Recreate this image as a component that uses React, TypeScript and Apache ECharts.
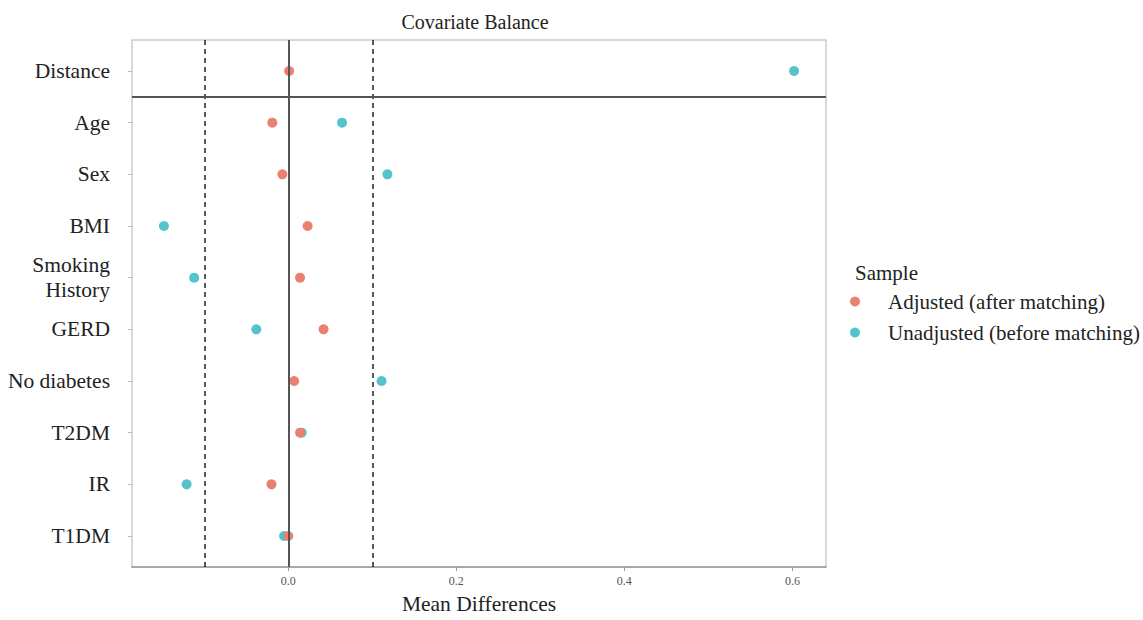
import React, { useEffect, useRef } from "react";
import * as echarts from "echarts";

const categories = [
  "Distance",
  "Age",
  "Sex",
  "BMI",
  "Smoking\nHistory",
  "GERD",
  "No diabetes",
  "T2DM",
  "IR",
  "T1DM",
];
const adjusted = [0.001, -0.019, -0.007, 0.023, 0.014, 0.042, 0.007, 0.014, -0.02, 0.0];
const unadjusted = [0.602, 0.064, 0.118, -0.148, -0.112, -0.038, 0.111, 0.016, -0.121, -0.005];
const xTicks = [0, 0.2, 0.4, 0.6];
const thresholds = [-0.1, 0.1];

const SERIF = "'Liberation Serif', 'DejaVu Serif', serif";
const RED = "#EA806F";
const BLUE = "#55C3CC";

export default function App() {
  const ref = useRef<HTMLDivElement>(null);
  useEffect(() => {
    if (!ref.current) return;
    const chart = echarts.init(ref.current, undefined, { renderer: "svg" });
    const yIdx = categories.map((_, i) => i);
    chart.setOption({
      animation: false,
      backgroundColor: "#fff",
      title: [
        {
          text: "Covariate Balance",
          left: 470,
          top: 7,
          textAlign: "center",
          textStyle: { fontFamily: SERIF, fontSize: 20, fontWeight: "normal", color: "#222" },
        },
        {
          text: "Sample",
          left: 850,
          top: 257,
          textStyle: { fontFamily: SERIF, fontSize: 21, fontWeight: "normal", color: "#222" },
        },
      ],
      legend: {
        orient: "vertical",
        left: 845,
        top: 286,
        itemWidth: 26,
        itemHeight: 10,
        itemGap: 10,
        icon: "circle",
        data: ["Adjusted (after matching)", "Unadjusted (before matching)"],
        textStyle: {
          fontFamily: SERIF,
          fontSize: 21,
          lineHeight: 21,
          color: "#222",
          padding: [0, 0, 0, 15],
        },
      },
      grid: {
        left: 132,
        right: 317,
        top: 40,
        bottom: 52,
        show: true,
        borderColor: "#cccccc",
        borderWidth: 1.5,
        backgroundColor: "#fff",
      },
      xAxis: {
        type: "value",
        min: -0.186,
        max: 0.64,
        name: "Mean Differences",
        nameLocation: "middle",
        nameGap: 26,
        nameTextStyle: { fontFamily: SERIF, fontSize: 21.5, color: "#222" },
        axisLine: { show: true, onZero: false, lineStyle: { color: "#999", width: 1.5 } },
        axisTick: { show: true, customValues: xTicks, length: 4, lineStyle: { color: "#999" } },
        axisLabel: {
          customValues: xTicks,
          formatter: (v: number) => v.toFixed(1),
          fontFamily: SERIF,
          fontSize: 12,
          color: "#555",
          margin: 8,
        },
        splitLine: { show: false },
      },
      yAxis: {
        type: "value",
        inverse: true,
        min: -0.6,
        max: 9.6,
        axisLine: { show: false, onZero: false },
        axisTick: { show: true, customValues: yIdx, length: 4, lineStyle: { color: "#bbb" } },
        axisLabel: {
          customValues: yIdx,
          formatter: (v: number) => categories[Math.round(v)] ?? "",
          fontFamily: SERIF,
          fontSize: 21.5,
          lineHeight: 25,
          color: "#222",
          margin: 22,
          align: "right",
        },
        splitLine: { show: false },
      },
      series: [
        {
          name: "Unadjusted (before matching)",
          type: "scatter",
          symbolSize: 10,
          itemStyle: { color: BLUE, opacity: 1 },
          data: unadjusted.map((v, i) => [v, i]),
          z: 3,
          markLine: {
            silent: true,
            symbol: "none",
            label: { show: false },
            data: [
              { xAxis: 0, lineStyle: { color: "#555", width: 2, type: "solid" } },
              ...thresholds.map((t) => ({
                xAxis: t,
                lineStyle: { color: "#222", width: 1.5, type: [5, 4] },
              })),
              { yAxis: 0.5, lineStyle: { color: "#555", width: 2, type: "solid" } },
            ],
          },
        },
        {
          name: "Adjusted (after matching)",
          type: "scatter",
          symbolSize: 10,
          itemStyle: { color: RED, opacity: 1 },
          data: adjusted.map((v, i) => [v, i]),
          z: 4,
        },
      ],
    });
    return () => chart.dispose();
  }, []);
  return (
    <div
      ref={ref}
      style={{ position: "fixed", left: 0, top: 0, width: 1143, height: 620 }}
    />
  );
}
